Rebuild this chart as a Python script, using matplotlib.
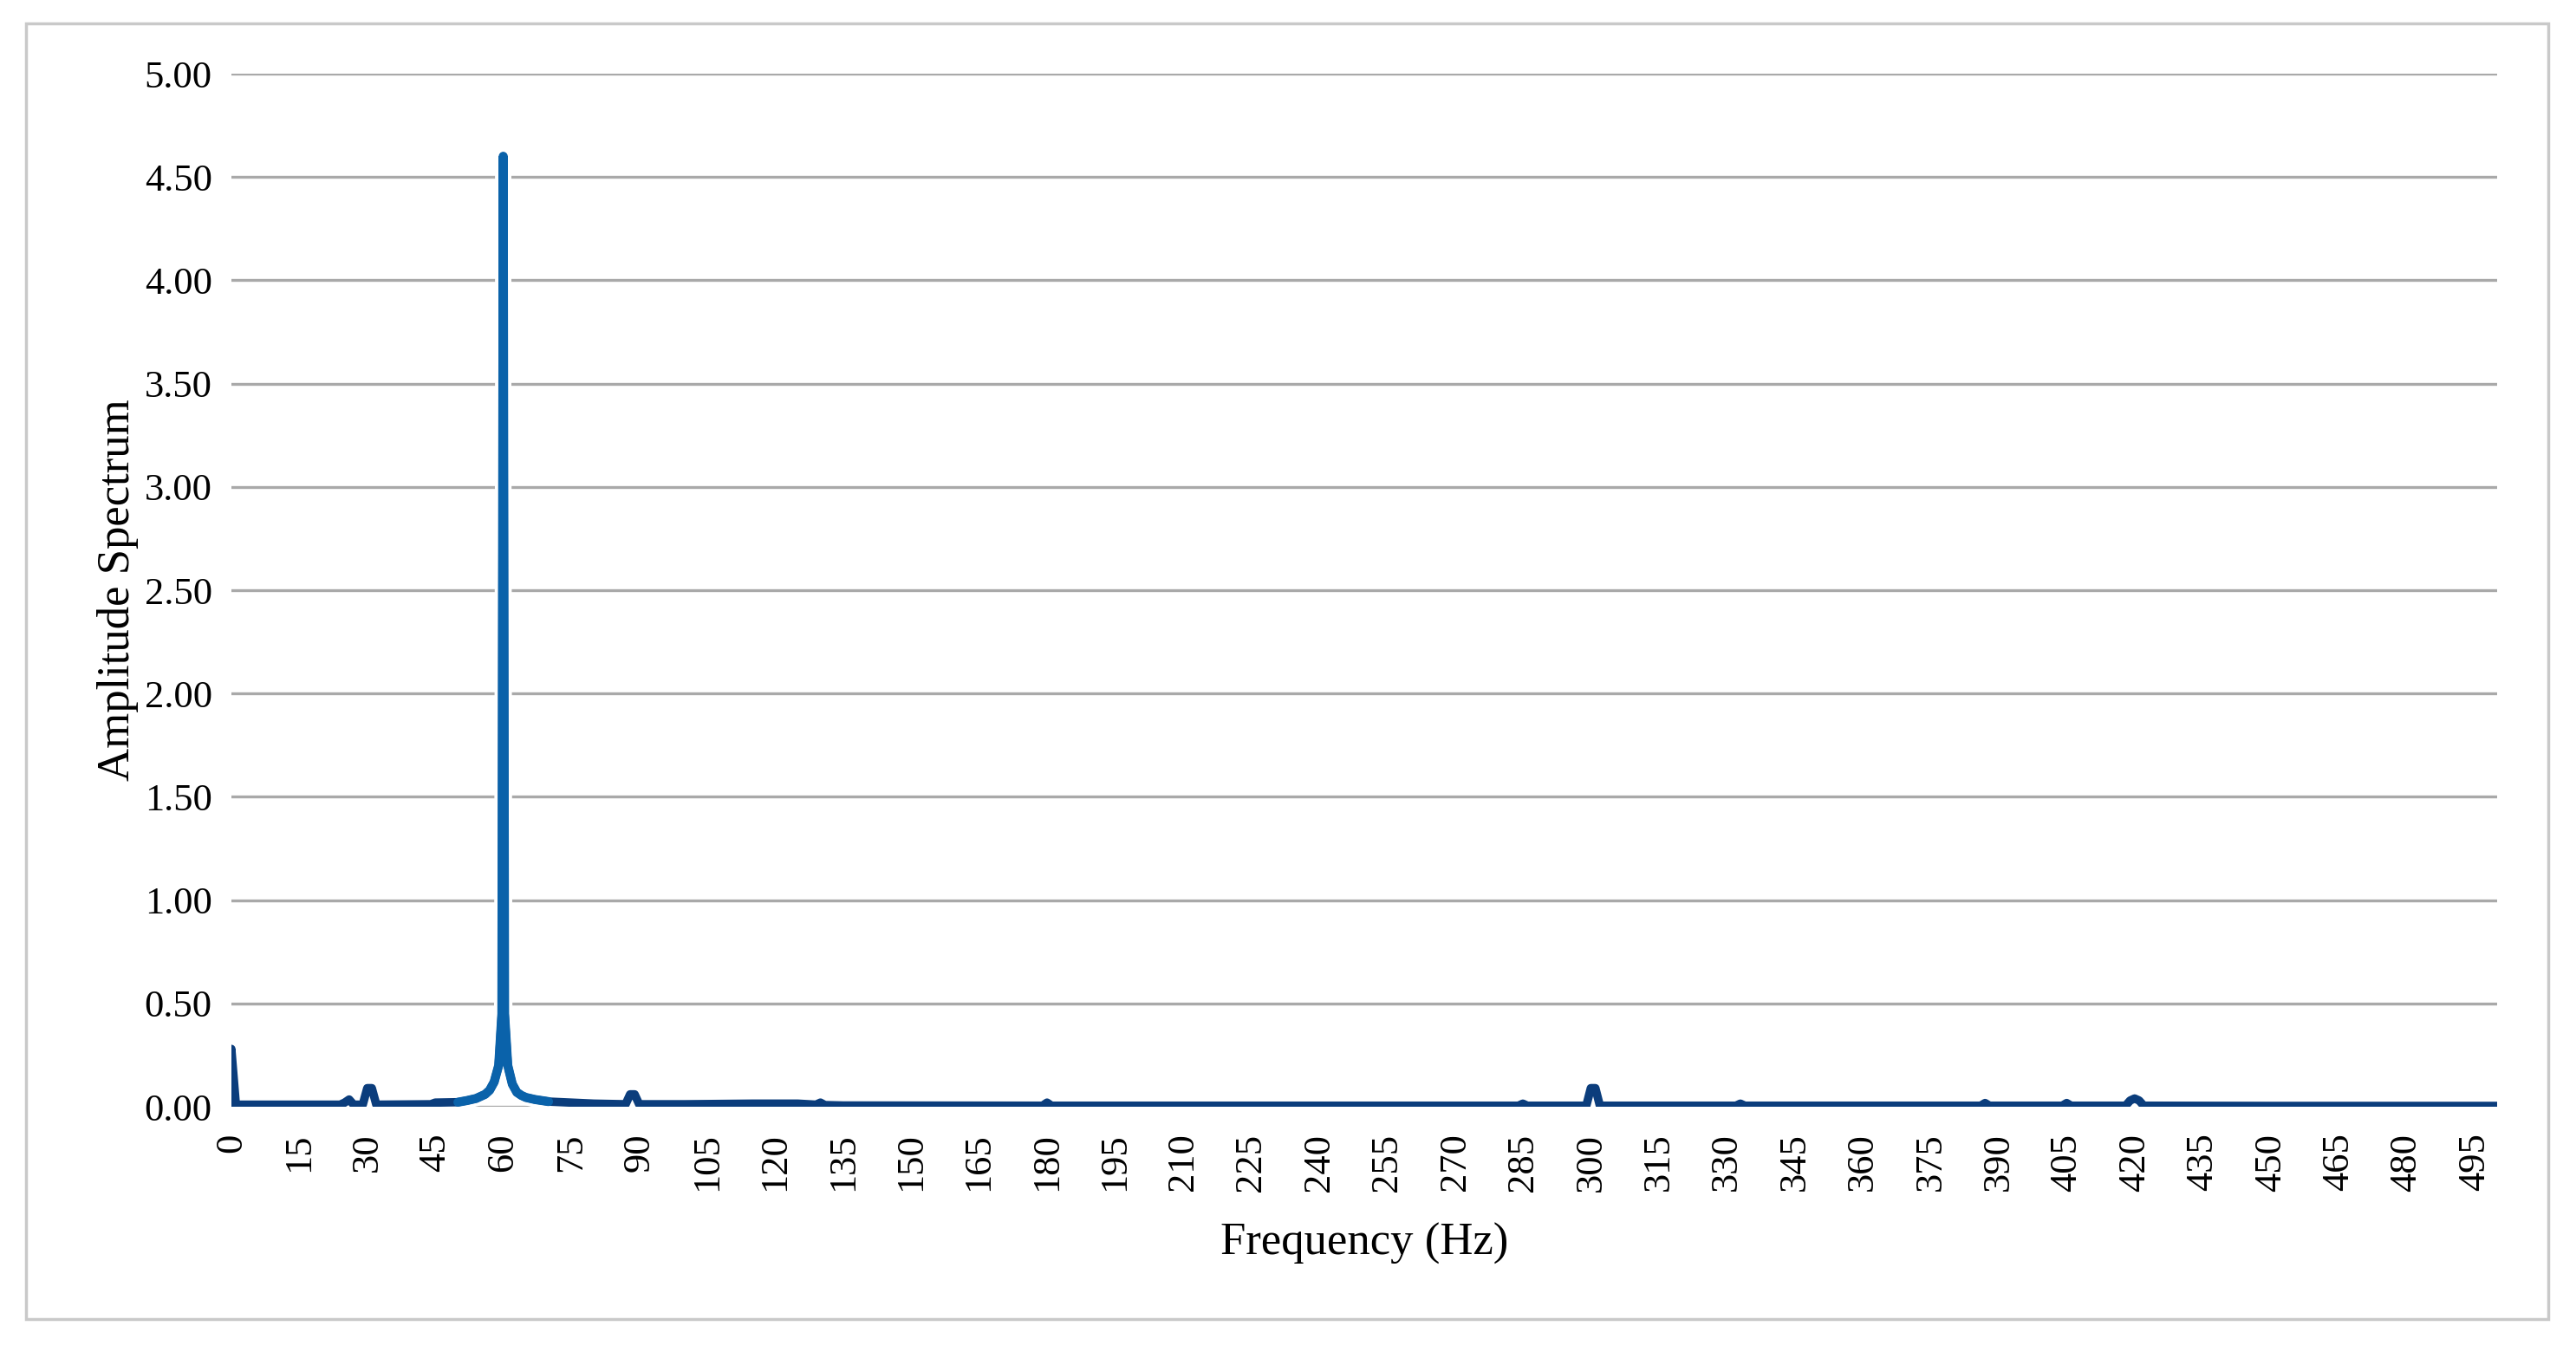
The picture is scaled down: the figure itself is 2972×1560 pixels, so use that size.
import matplotlib
matplotlib.use('Agg')
import matplotlib.pyplot as plt
import matplotlib.patheffects as pe
from matplotlib.patches import Rectangle

# amplitude spectrum (Hz, amplitude)
freq_hz = [0, 0, 1, 24, 25, 26, 27, 29, 30, 31, 32, 44, 45, 50, 52, 54, 55, 56,
           57, 58, 59, 59.7, 60, 60.3, 61, 62, 63, 64, 65, 67, 70, 75, 80, 87, 88,
           89, 90, 100, 115, 125, 129, 130, 131, 135, 179, 180, 181, 200, 284,
           285, 286, 299, 300, 301, 302, 332, 333, 334, 386, 387, 388, 404, 405,
           406, 418, 419, 420, 421, 422, 450, 500]
amplitude = [0.01, 0.28, 0.01, 0.01, 0.02, 0.035, 0.01, 0.01, 0.09, 0.09, 0.01,
             0.012, 0.02, 0.022, 0.03, 0.04, 0.05, 0.06, 0.08, 0.12, 0.2, 0.45,
             4.60, 0.45, 0.2, 0.11, 0.07, 0.055, 0.045, 0.035, 0.025, 0.02,
             0.015, 0.012, 0.06, 0.06, 0.012, 0.012, 0.015, 0.015, 0.01, 0.02,
             0.008, 0.006, 0.005, 0.02, 0.005, 0.005, 0.005, 0.015, 0.005, 0.005,
             0.09, 0.09, 0.005, 0.005, 0.015, 0.005, 0.005, 0.018, 0.005, 0.005,
             0.018, 0.005, 0.005, 0.03, 0.04, 0.03, 0.005, 0.004, 0.004]

peak_lo, peak_hi = 50, 70  # region drawn in the lighter blue

x_ticks = list(range(0, 500, 15))
y_ticks = [i * 0.5 for i in range(11)]

plt.rcParams['font.family'] = ['Liberation Serif', 'DejaVu Serif']

fig = plt.figure(figsize=(29.72, 15.60), dpi=100)
ax = fig.add_axes([0.0898, 0.1814, 0.9694 - 0.0898, 0.9455 - 0.1814])

ax.set_xlim(0, 500)
ax.set_ylim(0, 5)
ax.set_yticks(y_ticks)
ax.set_yticklabels(['%.2f' % v for v in y_ticks])
ax.set_xticks(x_ticks)
ax.set_xticklabels([str(v) for v in x_ticks], rotation=90)
ax.tick_params(axis='both', length=0, labelsize=32)
ax.tick_params(axis='y', pad=16)
ax.tick_params(axis='x', pad=22)
for s in ax.spines.values():
    s.set_visible(False)
ax.grid(axis='y', color='#a9a9a9', linewidth=2.4)
ax.set_axisbelow(True)

halo = [pe.Stroke(linewidth=13, foreground='white'), pe.Normal()]
ax.plot(freq_hz, amplitude, color='#0b3d7c', linewidth=7,
        solid_joinstyle='round', solid_capstyle='round', path_effects=halo, zorder=3)

pk_x = [f for f in freq_hz if peak_lo <= f <= peak_hi]
pk_y = [a for f, a in zip(freq_hz, amplitude) if peak_lo <= f <= peak_hi]
ax.plot(pk_x, pk_y, color='#0a62aa', linewidth=7.5,
        solid_joinstyle='round', solid_capstyle='round', zorder=4)

ax.set_xlabel('Frequency (Hz)', fontsize=38, labelpad=26)
ax.set_ylabel('Amplitude Spectrum', fontsize=38)
ax.yaxis.set_label_coords(-0.041, 0.5)

# outer frame around the chart
fig.patches.append(Rectangle((30 / 2972, 1 - 1522 / 1560), 2910 / 2972, 1495 / 1560,
                             transform=fig.transFigure, fill=False,
                             edgecolor='#c9c9c9', linewidth=2.5))

fig.savefig('out.png', dpi=100)
